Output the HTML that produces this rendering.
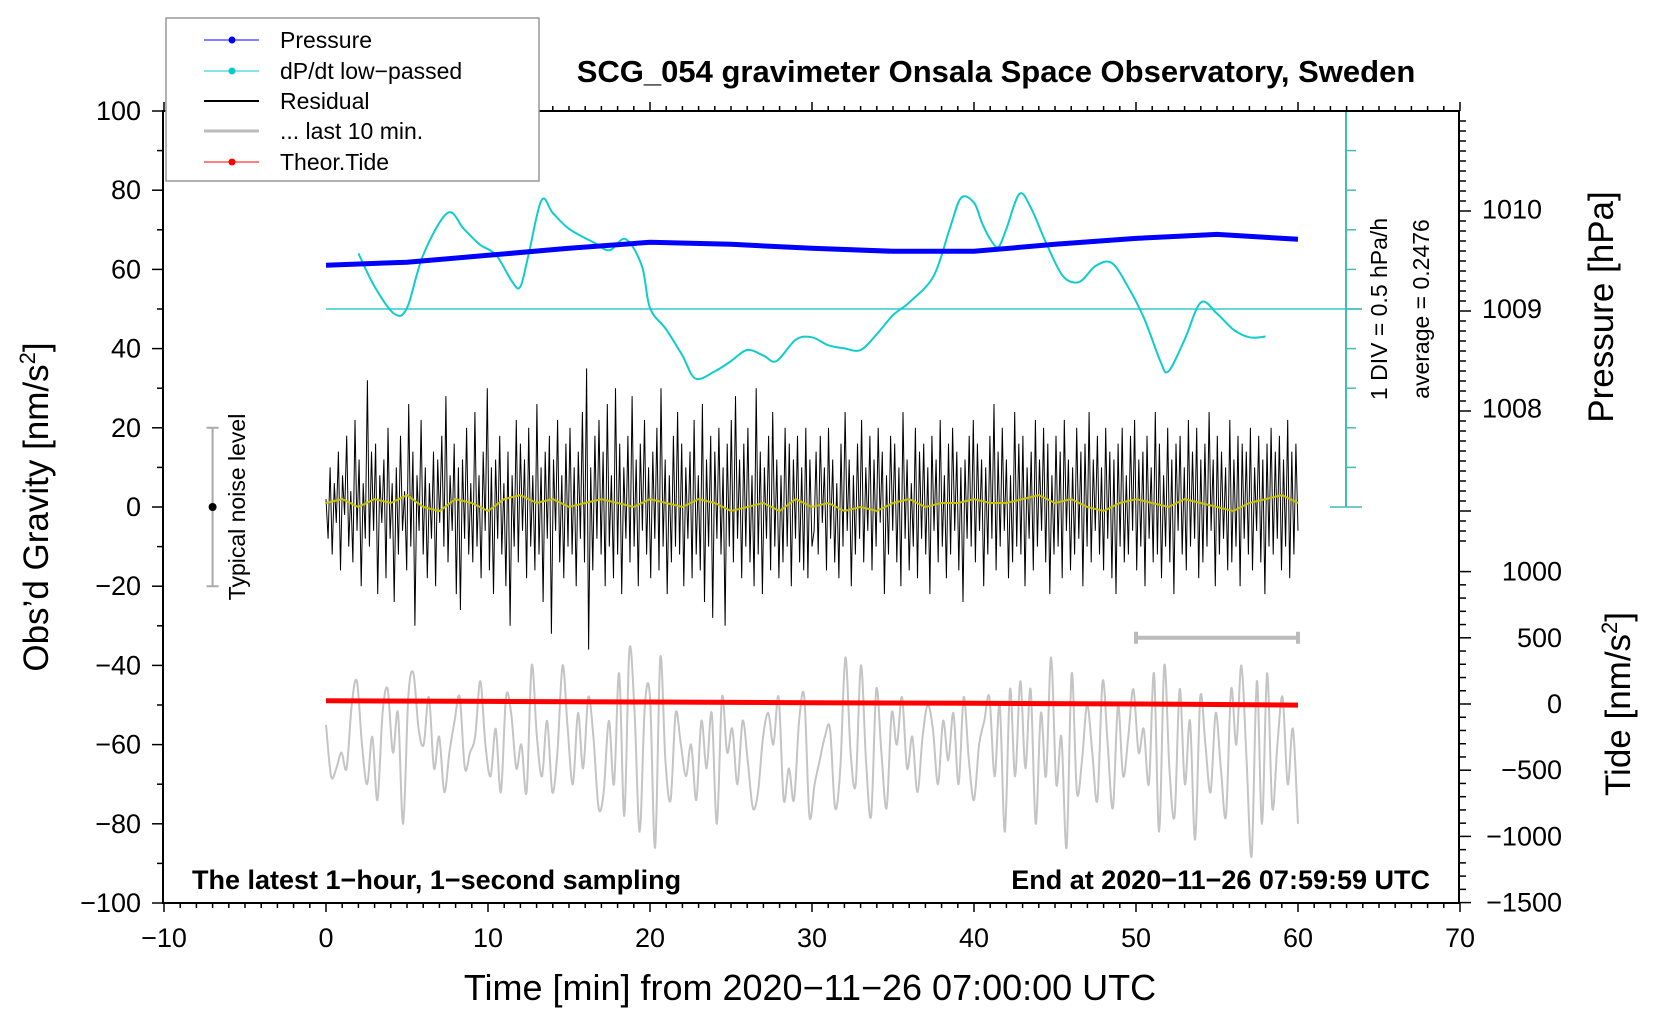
<!DOCTYPE html>
<html><head><meta charset="utf-8"><style>
html,body{margin:0;padding:0;background:#fff}
svg{display:block;font-family:"Liberation Sans",Arial,sans-serif}
</style></head><body>
<svg id="chart" width="1660" height="1020" viewBox="0 0 1660 1020" xmlns="http://www.w3.org/2000/svg">
<rect width="1660" height="1020" fill="#fff"/>
<g id="marks"></g>
<g id="axes"></g>
<rect x="163" y="111" width="1296" height="792" fill="none" stroke="#000" stroke-width="2"/>
<text x="996" y="82" font-size="31" font-weight="bold" text-anchor="middle">SCG_054 gravimeter Onsala Space Observatory, Sweden</text>
<text transform="translate(48,507) rotate(-90)" font-size="35" text-anchor="middle">Obs’d Gravity [nm/s<tspan font-size="22" dy="-13">2</tspan><tspan dy="13">]</tspan></text>
<text transform="translate(1613,307) rotate(-90)" font-size="35" text-anchor="middle">Pressure [hPa]</text>
<text transform="translate(1630,704) rotate(-90)" font-size="35" text-anchor="middle">Tide [nm/s<tspan font-size="22" dy="-13">2</tspan><tspan dy="13">]</tspan></text>
<text x="810" y="1000" font-size="36" text-anchor="middle">Time [min] from 2020−11−26 07:00:00 UTC</text>
<text x="192" y="889" font-size="27" font-weight="bold">The latest 1−hour, 1−second sampling</text>
<text x="1430" y="889" font-size="27" font-weight="bold" text-anchor="end">End at 2020−11−26 07:59:59 UTC</text>
<text transform="translate(1387,309) rotate(-90)" font-size="23" text-anchor="middle">1 DIV = 0.5 hPa/h</text>
<text transform="translate(1429,309) rotate(-90)" font-size="23" text-anchor="middle">average = 0.2476</text>
<text transform="translate(245,507) rotate(-90)" font-size="23" text-anchor="middle">Typical noise level</text>
<g>
<rect x="166" y="18" width="373" height="163" fill="#fff" stroke="#999" stroke-width="1.5"/>
<line x1="204" y1="40" x2="259" y2="40" stroke="#00f" stroke-width="1"/><circle cx="232" cy="40" r="3.5" fill="#00f"/>
<text x="280" y="48" font-size="23">Pressure</text>
<line x1="204" y1="71" x2="259" y2="71" stroke="#0cc" stroke-width="1"/><circle cx="232" cy="71" r="3.5" fill="#0cc"/>
<text x="280" y="79" font-size="23">dP/dt low−passed</text>
<line x1="204" y1="101" x2="259" y2="101" stroke="#000" stroke-width="2"/>
<text x="280" y="109" font-size="23">Residual</text>
<line x1="204" y1="131" x2="259" y2="131" stroke="#bbb" stroke-width="3"/>
<text x="280" y="139" font-size="23">... last 10 min.</text>
<line x1="204" y1="162" x2="259" y2="162" stroke="#f00" stroke-width="1"/><circle cx="232" cy="162" r="3.5" fill="#f00"/>
<text x="280" y="170" font-size="23">Theor.Tide</text>
</g>
</svg>
<script>
const pressTimes=[0,5,10,15,20,25,30,35,40,45,50,55,60];
const pressValues=[1009.44,1009.47,1009.54,1009.61,1009.67,1009.65,1009.61,1009.58,1009.58,1009.65,1009.71,1009.75,1009.70];
const rateTimes=[2,3,4.2,5,6,7.5,8.5,9.5,10.5,11.5,12,12.5,13.3,14,15,16.5,17.5,18.5,19.5,20,21,22,22.8,24,25,26,27,27.8,29,30,31,32,33,34,35,36,37.5,38.5,39.2,40,40.5,41,41.5,42,42.8,43.5,44.5,45.5,46.5,47.5,48.5,49.5,50.5,51.5,52,53,54,55,56,57,58];
const rateValues=[0.95,0.53,0.19,0.26,0.93,1.46,1.26,1.06,0.93,0.59,0.53,0.93,1.62,1.46,1.26,1.09,0.99,1.13,0.79,0.26,-0.01,-0.34,-0.63,-0.54,-0.41,-0.27,-0.34,-0.41,-0.14,-0.11,-0.21,-0.25,-0.27,-0.07,0.17,0.33,0.66,1.26,1.65,1.59,1.33,1.13,1.03,1.26,1.70,1.53,1.06,0.66,0.59,0.79,0.83,0.53,0.13,-0.41,-0.54,-0.14,0.33,0.19,-0.01,-0.11,-0.10];
const rateAverage=0.2476;
const residual=[2,-8,10,-12,6,-4,14,-16,8,-2,18,-10,4,-14,22,-6,12,-20,6,-8,32,-10,14,-6,16,-22,8,-4,12,-18,20,-8,6,-24,10,-12,18,-6,4,-16,26,-10,14,-30,8,-6,22,-12,10,-18,6,-8,14,-20,12,-4,18,-10,28,-14,8,-6,16,-22,10,-26,12,-8,20,-12,6,-14,24,-10,8,-18,14,-6,30,-16,10,-22,12,-8,18,-12,6,-20,14,-30,8,-10,22,-14,16,-6,12,-18,20,-10,8,-16,26,-12,10,-24,14,-8,18,-32,12,-6,22,-14,8,-18,16,-10,20,-12,10,-20,14,-8,24,-14,35,-36,10,-16,18,-8,22,-12,14,-20,26,-10,8,-18,30,-12,16,-22,10,-8,18,-14,28,-10,12,-20,16,-6,22,-12,10,-18,14,-8,20,-16,30,-10,12,-22,8,-14,18,-10,24,-12,16,-20,10,-8,14,-18,22,-12,8,-16,26,-24,12,-10,18,-28,14,-8,20,-12,10,-30,16,-10,22,-14,28,-8,12,-18,16,-10,20,-14,8,-20,30,-12,14,-22,10,-8,18,-16,24,-10,12,-18,8,-14,20,-10,16,-20,12,-8,18,-14,10,-16,20,-18,12,-10,
-6,14,-12,18,-4,10,-16,20,-8,12,-14,6,-18,16,-10,24,-6,12,-20,8,-12,16,-8,22,-14,10,-6,18,-16,12,-10,20,-4,14,-22,8,-12,18,-6,16,-14,10,-20,24,-8,12,-16,6,-10,20,-18,14,-8,16,-12,10,-22,18,-6,12,-14,22,-10,8,-18,16,-12,20,-6,14,-16,10,-24,12,-8,18,-10,22,-14,16,-6,12,-20,10,-12,18,-8,26,-16,14,-10,20,-6,12,-18,8,-14,24,-10,16,-12,18,-20,10,-8,14,-16,22,-10,12,-6,20,-14,16,-22,8,-12,18,-10,14,-18,22,-6,12,-16,10,-12,20,-8,14,-20,16,-10,24,-14,12,-6,18,-12,10,-16,20,-8,14,-18,12,-22,16,-10,20,-14,8,-12,18,-6,22,-16,12,-10,14,-20,18,-8,10,-14,24,-12,16,-18,8,-10,20,-14,12,-22,16,-6,18,-12,10,-16,22,-10,14,-8,20,-18,12,-14,16,-10,24,-6,12,-20,18,-12,14,-8,10,-16,22,-14,12,-10,18,-20,16,-8,14,-12,20,-16,10,-6,18,-14,12,-22,16,-10,20,-12,14,-8,18,-16,12,-10,22,-18,14,-12,16,-6];
const smoothed=[1,2,0,2,1,3,0,-1,2,1,-1,2,3,1,2,0,1,2,1,0,2,1,0,2,1,-1,0,1,-1,2,0,1,-1,0,-1,1,2,0,1,1,2,1,1,2,3,1,2,0,-1,1,2,1,0,2,1,0,-1,1,2,3,1];
const lastTen=[-55,-68,-66,-62,-66,-50,-44,-60,-70,-58,-74,-52,-46,-62,-52,-80,-48,-42,-56,-60,-48,-66,-58,-72,-62,-54,-48,-66,-62,-58,-44,-60,-68,-56,-72,-48,-52,-66,-60,-72,-40,-58,-68,-54,-72,-62,-40,-56,-70,-52,-66,-48,-58,-76,-72,-54,-70,-42,-78,-36,-52,-82,-50,-48,-86,-38,-64,-74,-52,-60,-68,-60,-74,-54,-66,-52,-80,-48,-62,-56,-70,-54,-64,-76,-72,-58,-52,-60,-48,-74,-66,-74,-54,-48,-78,-70,-64,-58,-56,-76,-66,-38,-62,-70,-40,-64,-78,-46,-62,-76,-52,-60,-48,-66,-58,-72,-58,-50,-56,-70,-54,-64,-52,-70,-48,-64,-74,-60,-54,-48,-68,-50,-82,-46,-68,-44,-66,-46,-80,-52,-68,-38,-70,-58,-86,-42,-72,-64,-50,-62,-74,-44,-60,-76,-50,-68,-58,-46,-62,-56,-70,-42,-82,-40,-66,-78,-46,-70,-54,-84,-48,-60,-72,-52,-66,-78,-46,-60,-40,-64,-88,-44,-80,-42,-76,-60,-48,-70,-56,-80];
const tideTimes=[0,10,20,30,40,50,60];
const tideValues=[25,20,15,10,5,0,-8];
const xTicks=[-10,0,10,20,30,40,50,60,70];
const gTicks=[100,80,60,40,20,0,-20,-40,-60,-80,-100];
const pTicks=[1010,1009,1008];
const tTicks=[1000,500,0,-500,-1000,-1500];

const NS='http://www.w3.org/2000/svg';
const X=t=>326+16.2*t;
const YG=v=>507-3.96*v;
const YP=p=>309-99.5*(p-1009);
const YR=r=>309-(r-rateAverage)*79.2;
const YT=v=>704-0.1324*v;
const marks=document.getElementById('marks'), axes=document.getElementById('axes');
function mk(tag,attrs,parent){const e=document.createElementNS(NS,tag);for(const k in attrs)e.setAttribute(k,attrs[k]);parent.appendChild(e);return e;}
function pts(ts,vs,fy){return vs.map((v,i)=>X(ts[i]).toFixed(1)+','+fy(v).toFixed(1)).join(' ');}
function even(n,t0,t1){const a=[];for(let i=0;i<n;i++)a.push(t0+(t1-t0)*i/(n-1));return a;}
function smoothPath(ts,vs,fy){const p=vs.map((v,i)=>[X(ts[i]),fy(v)]);let d='M'+p[0][0].toFixed(1)+','+p[0][1].toFixed(1);
 for(let i=0;i<p.length-1;i++){const p0=p[i-1]||p[i],p1=p[i],p2=p[i+1],p3=p[i+2]||p2;
  const c1=[p1[0]+(p2[0]-p0[0])/6,p1[1]+(p2[1]-p0[1])/6],c2=[p2[0]-(p3[0]-p1[0])/6,p2[1]-(p3[1]-p1[1])/6];
  d+=`C${c1[0].toFixed(1)},${c1[1].toFixed(1)} ${c2[0].toFixed(1)},${c2[1].toFixed(1)} ${p2[0].toFixed(1)},${p2[1].toFixed(1)}`;}
 return d;}

let e=mk('path',{d:smoothPath(even(lastTen.length,0,60),lastTen,YG),fill:'none',stroke:'#c4c4c4','stroke-width':2},marks);


e=mk('polyline',{points:pts(tideTimes,tideValues,YT),fill:'none',stroke:'#f00','stroke-width':5},marks);


e=mk('polyline',{points:pts(even(residual.length,0,60),residual,YG),fill:'none',stroke:'#000','stroke-width':1},marks);


e=mk('polyline',{points:pts(even(smoothed.length,0,60),smoothed,YG),fill:'none',stroke:'#c8c000','stroke-width':2},marks);


e=mk('line',{x1:X(0),y1:YR(rateAverage),x2:1362,y2:YR(rateAverage),stroke:'#3cc','stroke-width':1.5},marks);


e=mk('line',{x1:1346,y1:111,x2:1346,y2:507,stroke:'#4bb','stroke-width':2},marks);


for(let i=0;i<=10;i++){const y=111+39.6*i;const w=(i==0||i==10)?16:(i==5?16:10);
 e=mk('line',{x1:1346-(i==0||i==10?16:0),y1:y,x2:1346+w,y2:y,stroke:'#4bb','stroke-width':1.5},marks);
 
 }
e=mk('path',{d:smoothPath(rateTimes,rateValues,YR),fill:'none',stroke:'#1cc','stroke-width':2},marks);


e=mk('polyline',{points:pts(pressTimes,pressValues,YP),fill:'none',stroke:'#00f','stroke-width':5,'stroke-linejoin':'round'},marks);


e=mk('path',{d:`M${X(-7)},${YG(20)}V${YG(-20)}M${X(-7)-6},${YG(20)}h12M${X(-7)-6},${YG(-20)}h12`,stroke:'#aaa','stroke-width':2,fill:'none'},marks);


e=mk('circle',{cx:X(-7),cy:YG(0),r:4,fill:'#000'},marks);


e=mk('path',{d:`M${X(50)},${YT(500)}H${X(60)}M${X(50)},${YT(500)-6}v12M${X(60)},${YT(500)-6}v12`,stroke:'#bbb','stroke-width':4,fill:'none'},marks);



const tk={stroke:'#000','stroke-width':1.5};
for(let t=-10;t<=70;t++){const maj=t%10==0;
 e=mk('line',Object.assign({x1:X(t),y1:903,x2:X(t),y2:903+(maj?9:5)},tk),axes);
 
 
 e=mk('line',Object.assign({x1:X(t),y1:111,x2:X(t),y2:111-(maj?9:5)},tk),axes);
 
 }
xTicks.forEach(t=>{e=mk('text',{x:X(t),y:947,'font-size':27,'text-anchor':'middle'},axes);e.textContent=String(t).replace('-','−');
 
 });
for(let v=-100;v<=100;v+=10){const maj=v%20==0;
 e=mk('line',Object.assign({x1:163,y1:YG(v),x2:163-(maj?11:6),y2:YG(v)},tk),axes);
 
 }
gTicks.forEach(v=>{e=mk('text',{x:141,y:YG(v)+9,'font-size':27,'text-anchor':'end'},axes);e.textContent=String(v).replace('-','−');
 
 });
for(let y=121;y<=545;y+=10){const p=1009+(309-y)/99.5;const maj=Math.abs(p-Math.round(p))<0.05;
 e=mk('line',Object.assign({x1:1459,y1:y,x2:1459+(maj?12:7),y2:y},tk),axes);
 
 }
pTicks.forEach(p=>{e=mk('text',{x:1482,y:YP(p)+9,'font-size':27},axes);e.textContent=p;
 
 });
for(let v=-1500;v<=1000;v+=100){const maj=v%500==0;
 e=mk('line',Object.assign({x1:1459,y1:YT(v),x2:1459+(maj?12:7),y2:YT(v)},tk),axes);
 
 }
tTicks.forEach(v=>{e=mk('text',{x:1562,y:YT(v)+9,'font-size':27,'text-anchor':'end'},axes);e.textContent=String(v).replace('-','−');
 
 });
</script>
</body></html>
